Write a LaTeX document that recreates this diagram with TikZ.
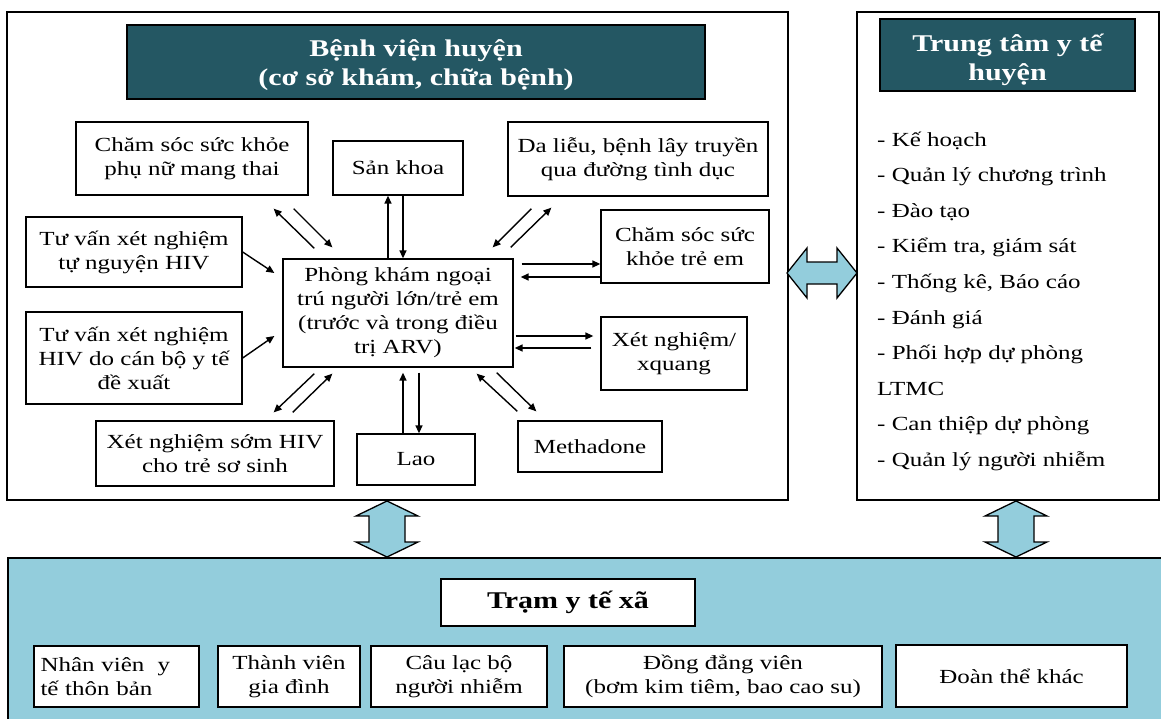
\documentclass[tikz,border=0pt]{standalone}
\usepackage{fontspec}
\setmainfont[FakeStretch=1.25]{Liberation Serif}
\usetikzlibrary{arrows.meta}
\definecolor{hdrteal}{HTML}{245763}
\definecolor{lightb}{HTML}{93CDDC}
\begin{document}
\begin{tikzpicture}[x=1pt,y=-1pt,
  every node/.style={font=\fontsize{20}{24}\selectfont, inner sep=0pt},
  box/.style={draw, line width=1.3pt, fill=white, align=center},
  panel/.style={draw, line width=1.5pt},
  hdrbox/.style={draw=black, line width=1.3pt, fill=hdrteal},
  hdrtext/.style={text=white, align=center, font=\fontsize{24}{29}\selectfont\bfseries},
  arr/.style={line width=1.4pt, -{Triangle[length=8pt,width=7pt]}},
  dbl/.style={draw, line width=1.3pt, fill=lightb, line join=miter}]
\useasboundingbox (0,0) rectangle (1161,718);
\clip (0,0) rectangle (1161,718);
% panels
\node[panel, minimum width=781, minimum height=488] (hosp) at (397.5,256) {};
\node[panel, minimum width=302, minimum height=488] (center) at (1008,256) {};
\node[panel, fill=lightb, minimum width=1170, minimum height=180, anchor=north west] (commune) at (7,557) {};
% headers
\node[hdrbox, minimum width=578, minimum height=74] (bv) at (416,62) {};
\node[hdrtext] (bvt) at (416,65.5) {Bệnh viện huyện\\(cơ sở khám, chữa bệnh)};
\node[hdrbox, minimum width=255, minimum height=72] (ttyt) at (1007.5,55) {};
\node[hdrtext] (ttytt) at (1007.5,60) {Trung tâm y tế\\huyện};
% hospital boxes
\node[box, minimum width=232, minimum height=73] (cp) at (192,158.5) {Chăm sóc sức khỏe\\phụ nữ mang thai};
\node[box, minimum width=130, minimum height=54] (sk) at (398,168) {Sản khoa};
\node[box, minimum width=260, minimum height=74] (dl) at (638,159) {Da liễu, bệnh lây truyền\\qua đường tình dục};
\node[box, minimum width=168, minimum height=73] (ct) at (685,246.5) {Chăm sóc sức\\khỏe trẻ em};
\node[box, minimum width=216, minimum height=70] (tv1) at (134,252) {Tư vấn xét nghiệm\\tự nguyện HIV};
\node[box, minimum width=230, minimum height=108] (c) at (398,313) {Phòng khám ngoại\\trú người lớn/trẻ em\\(trước và trong điều\\trị ARV)};
\node[box, minimum width=216, minimum height=92] (tv2) at (134,358) {Tư vấn xét nghiệm\\HIV do cán bộ y tế\\đề xuất};
\node[box, minimum width=146, minimum height=73] (xn) at (674,353.5) {Xét nghiệm/\\xquang};
\node[box, minimum width=238, minimum height=65] (xs) at (215,453.5) {Xét nghiệm sớm HIV\\cho trẻ sơ sinh};
\node[box, minimum width=118, minimum height=51] (lao) at (416,459.5) {Lao};
\node[box, minimum width=144, minimum height=51] (met) at (590,446.5) {Methadone};
% arrows
\draw[arr] ([xshift=32pt,yshift=10pt]c.north west) -- ([xshift=-35pt,yshift=-13pt]cp.south east);
\draw[arr] ([xshift=-15pt,yshift=-13pt]cp.south east) -- ([xshift=50pt,yshift=11pt]c.north west);
\draw[arr] ([xshift=-10pt]c.north) -- ([xshift=-10pt]sk.south);
\draw[arr] ([xshift=5pt]sk.south) -- ([xshift=5pt]c.north);
\draw[arr] ([xshift=24pt,yshift=-12pt]dl.south west) -- ([xshift=-21pt,yshift=11pt]c.north east);
\draw[arr] ([xshift=-3pt,yshift=11pt]c.north east) -- ([xshift=44pt,yshift=-11pt]dl.south west);
\draw[arr] ([xshift=8pt,yshift=49pt]c.east) -- ([yshift=-17.5pt]ct.west);
\draw[arr] ([yshift=-30.5pt]ct.west) -- ([xshift=7pt,yshift=36pt]c.east);
\draw[arr] ([xshift=2pt,yshift=-23pt]c.east) -- ([xshift=-7pt,yshift=17.5pt]xn.west);
\draw[arr] ([xshift=-9pt,yshift=5.5pt]xn.west) -- ([xshift=1pt,yshift=-35pt]c.east);
\draw[arr] ([yshift=9pt]met.north west) -- ([xshift=-37pt,yshift=-6pt]c.south east);
\draw[arr] ([xshift=-17pt,yshift=-5pt]c.south east) -- ([xshift=19pt,yshift=9pt]met.north west);
\draw[arr] ([xshift=-13pt]lao.north) -- ([xshift=5pt,yshift=-5pt]c.south);
\draw[arr] ([xshift=21pt,yshift=-5pt]c.south) -- ([xshift=3pt]lao.north);
\draw[arr] ([xshift=32pt,yshift=-6pt]c.south west) -- ([xshift=-61pt,yshift=8pt]xs.north east);
\draw[arr] ([xshift=-42pt,yshift=8pt]xs.north east) -- ([xshift=50pt,yshift=-6pt]c.south west);
\draw[arr] (tv1.east) -- ([xshift=-8pt,yshift=40pt]c.west);
\draw[arr] (tv2.east) -- ([xshift=-8pt,yshift=-23pt]c.west);
% right list
\foreach \t [count=\i] in {- Kế hoạch, - Quản lý chương trình, - Đào tạo, {- Kiểm tra, giám sát}, {- Thống kê, Báo cáo}, - Đánh giá, - Phối hợp dự phòng, LTMC, - Can thiệp dự phòng, - Quản lý người nhiễm}
  \node[anchor=base west] (l\i) at (877,{146+35.6*(\i-1)}) {\t};
% double arrows
\draw[dbl] (787,273) -- (807,248) -- (807,262) -- (837,262) -- (837,248) -- (857,273) -- (837,298) -- (837,284) -- (807,284) -- (807,298) -- cycle;
\draw[dbl] (387,501) -- (418,516) -- (405,516) -- (405,542) -- (418,542) -- (387,557) -- (356,542) -- (369,542) -- (369,516) -- (356,516) -- cycle;
\draw[dbl] (1016,501) -- (1047,516) -- (1034,516) -- (1034,542) -- (1047,542) -- (1016,557) -- (985,542) -- (998,542) -- (998,516) -- (985,516) -- cycle;
% commune
\node[box, minimum width=254, minimum height=47, font=\fontsize{24}{29}\selectfont\bfseries] (tram) at (568,602.5) {Trạm y tế xã};
\node[box, minimum width=165, minimum height=61, text width=152, align=left] (b1) at (116.5,676.5) {Nhân viên\ \ y\\tế thôn bản};
\node[box, minimum width=142, minimum height=61] (b2) at (289,676.5) {Thành viên\\gia đình};
\node[box, minimum width=176, minimum height=61] (b3) at (459,676.5) {Câu lạc bộ\\người nhiễm};
\node[box, minimum width=318, minimum height=61] (b4) at (723,676.5) {Đồng đẳng viên\\(bơm kim tiêm, bao cao su)};
\node[box, minimum width=231, minimum height=62] (b5) at (1011.5,676) {Đoàn thể khác};
\end{tikzpicture}
\end{document}
